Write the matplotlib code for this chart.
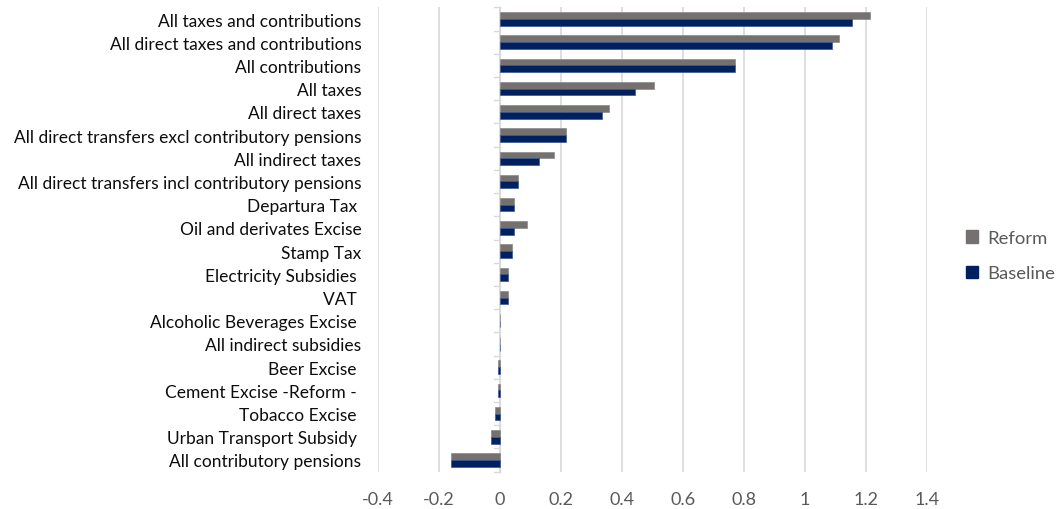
import matplotlib
matplotlib.use("Agg")
import matplotlib.pyplot as plt
from matplotlib.patches import Patch
import numpy as np

categories = [
    "All taxes and contributions",
    "All direct taxes and contributions",
    "All contributions",
    "All taxes",
    "All direct taxes",
    "All direct transfers excl contributory pensions",
    "All indirect taxes",
    "All direct transfers incl contributory pensions",
    "Departura Tax ",
    "Oil and derivates Excise",
    "Stamp Tax",
    "Electricity Subsidies ",
    "VAT ",
    "Alcoholic Beverages Excise ",
    "All indirect subsidies",
    "Beer Excise ",
    "Cement Excise -Reform - ",
    "Tobacco Excise ",
    "Urban Transport Subsidy ",
    "All contributory pensions",
]
reform = [1.214, 1.112, 0.772, 0.506, 0.358, 0.218, 0.176, 0.060, 0.046, 0.088,
          0.040, 0.027, 0.027, 0.001, 0.001, -0.006, -0.006, -0.015, -0.029, -0.160]
baseline = [1.154, 1.088, 0.772, 0.441, 0.334, 0.218, 0.129, 0.060, 0.046, 0.046,
            0.040, 0.027, 0.027, 0.001, 0.001, -0.006, -0.006, -0.015, -0.029, -0.160]
xticks = [-0.4, -0.2, 0, 0.2, 0.4, 0.6, 0.8, 1, 1.2, 1.4]
xticklabels = ["-0.4", "-0.2", "0", "0.2", "0.4", "0.6", "0.8", "1", "1.2", "1.4"]

plt.rcParams['font.family'] = ['Lato', 'DejaVu Sans']

fig = plt.figure(figsize=(10.58, 5.10), dpi=100)
ax = fig.add_axes([378/1058, 1 - 472.6/510, (927 - 378)/1058, (472.6 - 8.4)/510])

n = len(categories)
y = np.arange(n)
h = 0.29
ax.barh(y - h/2, reform, height=h, color="#767171", edgecolor="#8c8888", linewidth=0.5, label="Reform", zorder=3)
ax.barh(y + h/2, baseline, height=h, color="#002060", edgecolor="#3a5590", linewidth=0.5, label="Baseline", zorder=3)

ax.set_ylim(n - 0.5, -0.5)
ax.set_xlim(-0.4, 1.4)
ax.set_xticks(xticks)
ax.set_xticklabels(xticklabels)
ax.set_yticks(y)
ax.set_yticklabels(categories)
ax.tick_params(axis='y', length=0, pad=12, labelsize=12.5, labelcolor="#0d0d0d")
ax.tick_params(axis='x', length=0, pad=14, labelsize=13, labelcolor="#595959")
for s in ax.spines.values():
    s.set_visible(False)
ax.grid(axis='x', color="#d9d9d9", linewidth=1.2, zorder=0)
ax.set_axisbelow(True)

# zero axis line with category boundary tick marks
ax.axvline(0, color="#d9d9d9", linewidth=1.2, zorder=2)
for b in np.arange(-0.5, n, 1.0):
    ax.plot([-0.02, 0], [b, b], color="#d9d9d9", linewidth=1.0, zorder=2, clip_on=False)

handles = [Patch(color="#767171", label="Reform"), Patch(color="#002060", label="Baseline")]
fig.legend(handles=handles, loc="center left", bbox_to_anchor=(0.913, 0.497), frameon=False,
           fontsize=13.3, handlelength=0.65, handleheight=0.65, handletextpad=0.5,
           labelspacing=1.05, labelcolor="#595959", borderaxespad=0, borderpad=0)

fig.savefig("out.png", dpi=100)
